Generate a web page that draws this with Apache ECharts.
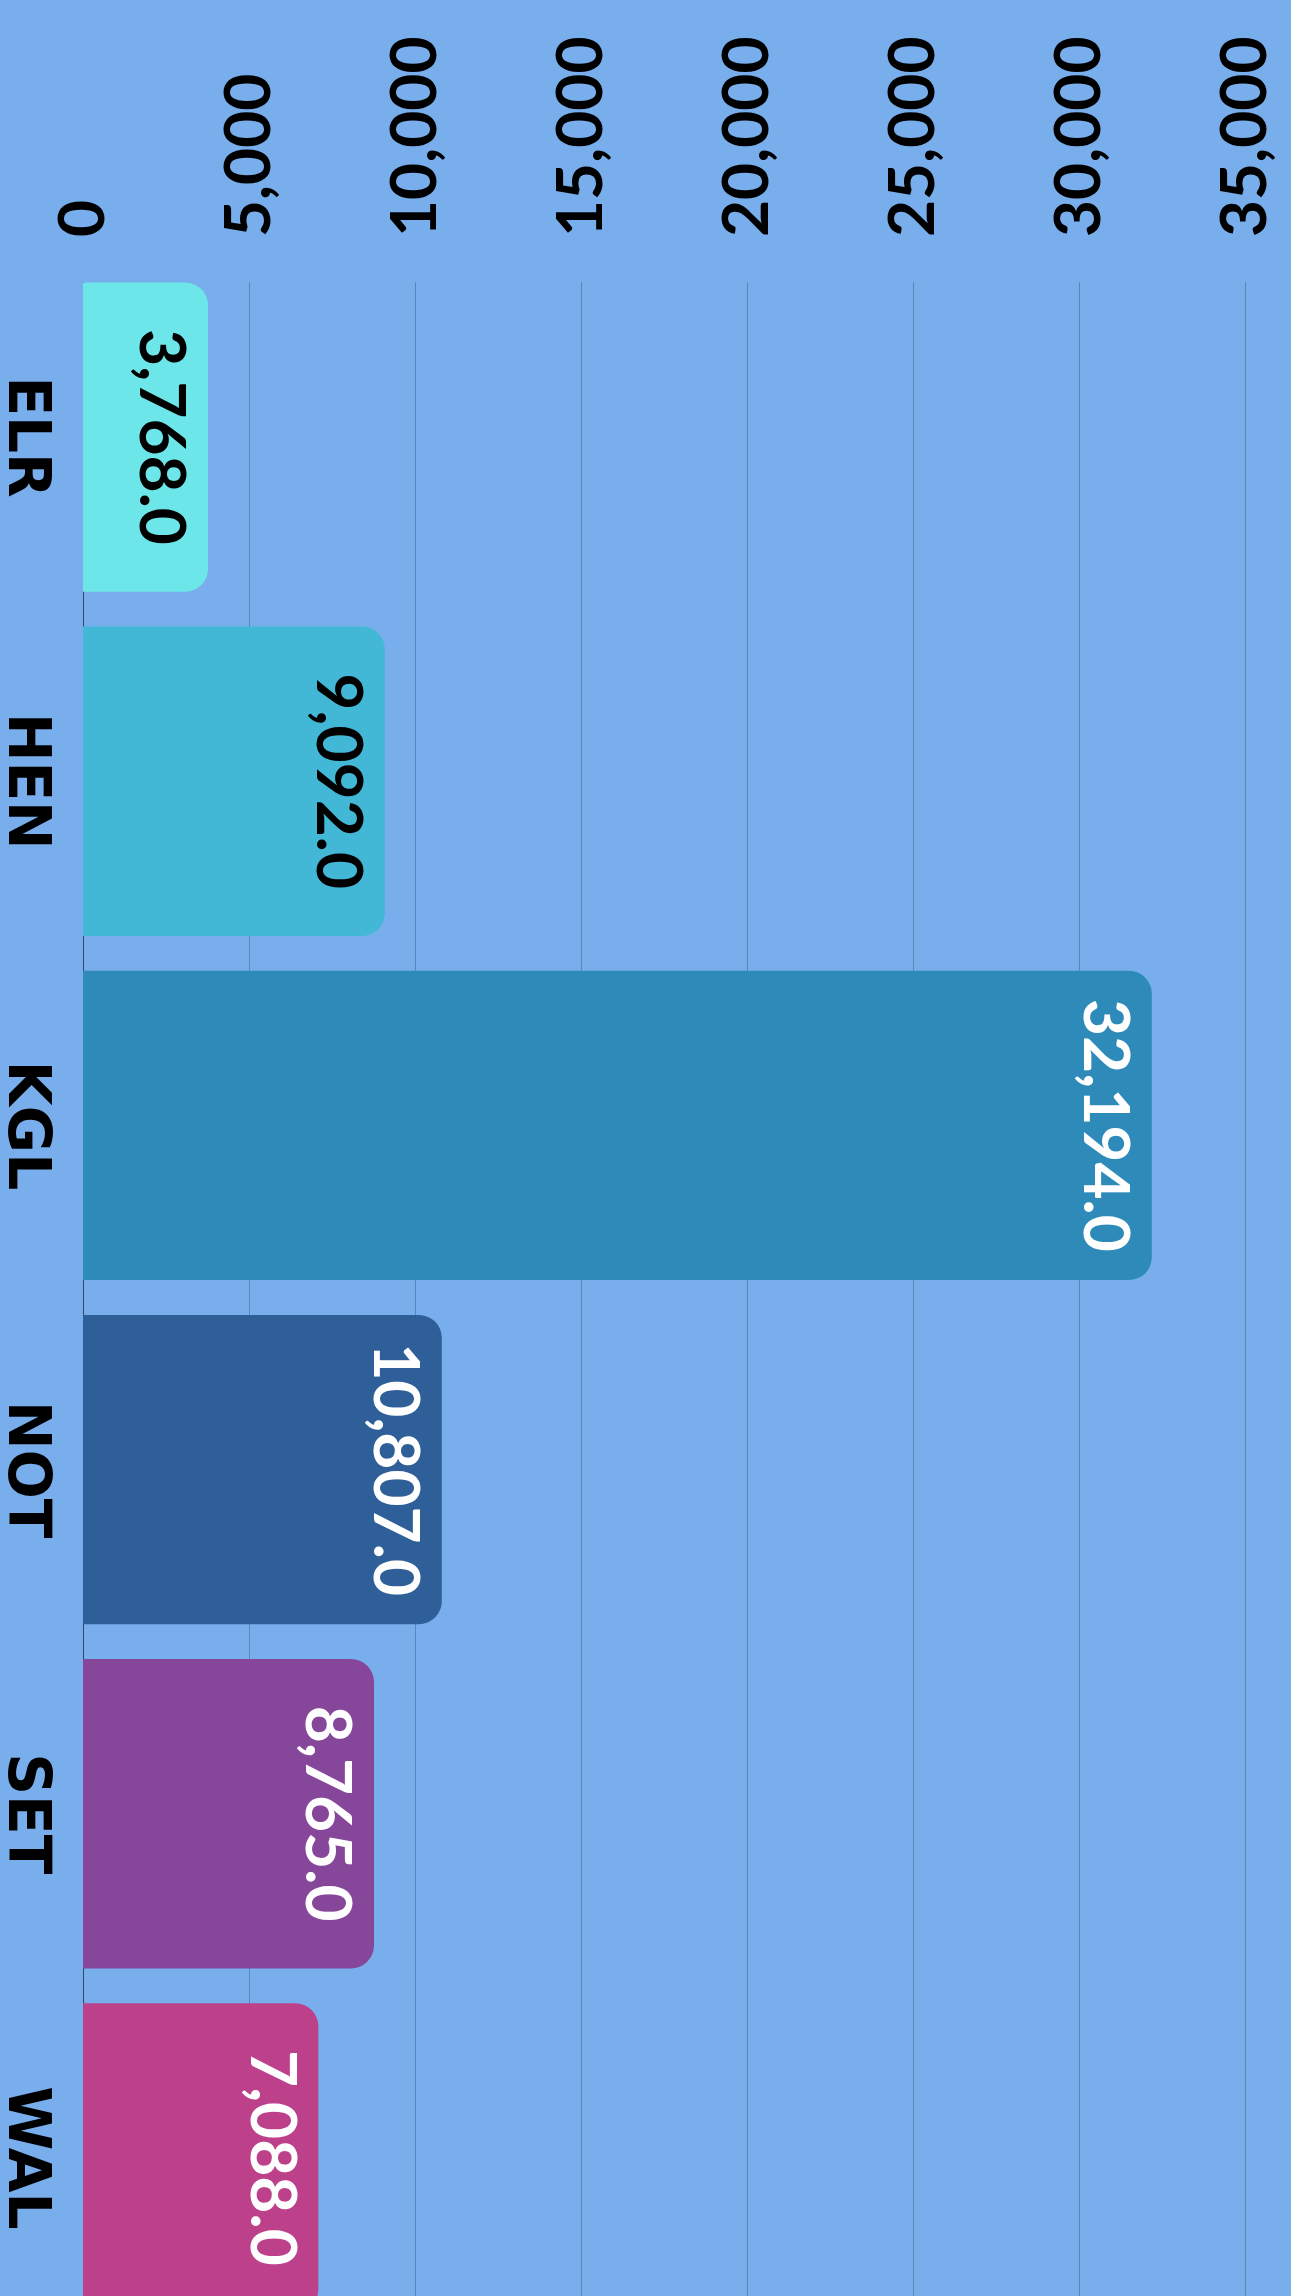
<!DOCTYPE html>
<html lang="en">
<head>
<meta charset="UTF-8">
<title>Bar chart</title>
<style>
    html,body{
        width: 100%;
        height: 100%;
        margin: 0;
        padding: 0;
        background: #78aeec;
    }
</style>
</head>
<body>
<div id="main" style="width:1291px;height:2296px;"></div>

<script src="https://cdn.jsdelivr.net/npm/echarts@6/dist/echarts.min.js"></script>
<script>
    // data
    var categories = ['ELR', 'HEN', 'KGL', 'NOT', 'SET', 'WAL'];
    var values = [3768, 9092, 32194, 10807, 8765, 7088];
    var valueTicks = [0, 5000, 10000, 15000, 20000, 25000, 30000, 35000];

    var barColors = ['#6ce6e8', '#42b7d6', '#2e8bb9', '#2e5f98', '#864699', '#bc408a'];
    var labelColors = ['#000', '#000', '#fff', '#fff', '#fff', '#fff'];

    var bg = '#78aeec';
    var font = 'Lato';

    function fmtInt(v) {
        return Number(v).toLocaleString('en-US');
    }
    function fmtOne(v) {
        return Number(v).toLocaleString('en-US', {minimumFractionDigits: 1, maximumFractionDigits: 1});
    }

    var myChart = echarts.init(document.getElementById('main'));

    var seriesData = values.map(function (v, i) {
        return {
            value: v,
            itemStyle: {color: barColors[i]},
            label: {color: labelColors[i]}
        };
    });

    myChart.setOption({
        backgroundColor: bg,
        animation: false,
        grid: {
            left: 83,
            right: 46,
            top: 265,
            height: 2065,
            outerBoundsMode: 'none'
        },
        // the plot starts flush with the first bar; hide the bit of grid above it
        graphic: [{
            type: 'rect',
            z: 1,
            shape: {x: 80, y: 255, width: 1211, height: 27},
            style: {fill: bg}
        }],
        xAxis: {
            type: 'value',
            position: 'top',
            min: valueTicks[0],
            max: valueTicks[valueTicks.length - 1],
            interval: valueTicks[1] - valueTicks[0],
            axisLine: {show: false},
            axisTick: {show: false},
            splitLine: {lineStyle: {color: '#5b86b6', width: 1}},
            axisLabel: {
                rotate: -90,
                margin: 28,
                fontSize: 64,
                fontFamily: font,
                fontWeight: 'bold',
                color: '#000',
                formatter: fmtInt
            }
        },
        yAxis: {
            type: 'category',
            inverse: true,
            data: categories,
            axisTick: {show: false},
            axisLine: {lineStyle: {color: '#34465e', width: 1}},
            axisLabel: {
                rotate: -90,
                margin: 30,
                fontSize: 58,
                fontFamily: 'DejaVu Sans',
                fontWeight: 'bold',
                color: '#000'
            }
        },
        series: [{
            type: 'bar',
            data: seriesData,
            barCategoryGap: '10.1%',
            itemStyle: {borderRadius: [0, 23, 23, 0]},
            label: {
                show: true,
                position: 'insideRight',
                rotate: -90,
                align: 'center',
                verticalAlign: 'top',
                distance: 15,
                fontSize: 64,
                fontFamily: font,
                fontWeight: 'bold',
                formatter: function (p) { return fmtOne(p.value); }
            }
        }]
    });
</script>
</body>
</html>
